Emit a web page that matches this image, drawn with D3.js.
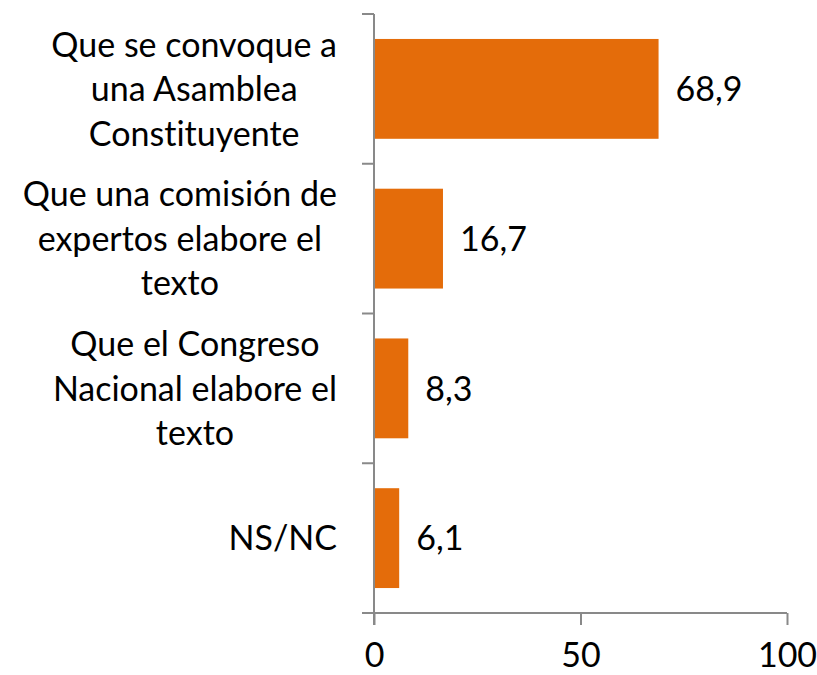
<!DOCTYPE html>
<meta charset="utf-8">
<style>
body { margin: 0; background: #fff; }
text { font-family: Lato, "Open Sans", sans-serif; fill: #000; font-variant-ligatures: none; }
</style>
<body>
<script src="https://d3js.org/d3.v7.min.js"></script>
<script>

var width = 817,
    height = 675;

// data
var categories = [
  ["Que se convoque a", "una Asamblea", "Constituyente"],
  ["Que una comisión de", "expertos elabore el", "texto"],
  ["Que el Congreso", "Nacional elabore el", "texto"],
  ["NS/NC"]
];
var values = [68.9, 16.7, 8.3, 6.1];
var valueLabels = ["68,9", "16,7", "8,3", "6,1"];
var xTicks = [0, 50, 100];

var fontSize = 34,
    lineH = 44.5,
    axisColor = "#898989",
    barColor = "#E46C0A";

var svg = d3.select("body").append("svg")
    .attr("width", width)
    .attr("height", height);

var x = d3.scaleLinear()
    .domain([0, 100])
    .range([374, 787]);

var y = d3.scaleBand()
    .domain(d3.range(values.length))
    .range([14, 613])
    .paddingInner(1/3)
    .paddingOuter(1/6);

// bars
svg.selectAll("rect.bar")
    .data(values)
    .enter()
    .append("rect")
    .attr("class", "bar")
    .attr("x", x(0))
    .attr("y", function(d, i) { return y(i); })
    .attr("width", function(d) { return x(d) - x(0); })
    .attr("height", y.bandwidth())
    .style("fill", barColor);

// value labels
svg.selectAll("text.val")
    .data(values)
    .enter()
    .append("text")
    .attr("class", "val")
    .attr("x", function(d) { return x(d) + 17; })
    .attr("y", function(d, i) { return y(i) + y.bandwidth() / 2; })
    .attr("dy", "0.36em")
    .style("font-size", fontSize + "px")
    .text(function(d, i) { return valueLabels[i]; });

// x axis
var xAxis = svg.append("g")
    .attr("transform", "translate(0,613)")
    .call(d3.axisBottom(x).tickValues(xTicks).tickSize(12).tickPadding(18).tickFormat(d3.format("d")));
xAxis.select(".domain").remove();
xAxis.selectAll("line").style("stroke", axisColor).style("stroke-width", 2);
xAxis.selectAll("text")
    .style("font-size", fontSize + "px")
    .style("font-family", "Lato, 'Open Sans', sans-serif")
    .attr("fill", "#000");
xAxis.append("line")
    .attr("x1", 362).attr("x2", x(100))
    .style("stroke", axisColor).style("stroke-width", 2);

// y axis (category boundaries)
var bounds = d3.range(values.length + 1).map(function(i) {
  return i < values.length ? y(i) - y.step() * y.paddingInner() / 2 : 613;
});
svg.append("line")
    .attr("x1", x(0)).attr("x2", x(0))
    .attr("y1", bounds[0]).attr("y2", 625)
    .style("stroke", axisColor).style("stroke-width", 2);
svg.selectAll("line.ytick")
    .data(bounds.slice(0, -1))
    .enter()
    .append("line")
    .attr("class", "ytick")
    .attr("x1", 362).attr("x2", x(0))
    .attr("y1", function(d) { return d; })
    .attr("y2", function(d) { return d; })
    .style("stroke", axisColor).style("stroke-width", 2);

// category labels: block right-aligned, lines centered in block
var labelRight = 337;
categories.forEach(function(lines, i) {
  var g = svg.append("g");
  var cy = y(i) + y.bandwidth() / 2;
  var t = g.selectAll("text")
      .data(lines)
      .enter()
      .append("text")
      .style("font-size", fontSize + "px")
      .attr("text-anchor", "middle")
      .attr("y", function(d, j) { return cy + (j - (lines.length - 1) / 2) * lineH; })
      .attr("dy", "0.36em")
      .text(function(d) { return d; });
  var maxW = d3.max(t.nodes(), function(n) { return n.getComputedTextLength(); });
  t.attr("x", labelRight - maxW / 2);
});

</script>
</body>
